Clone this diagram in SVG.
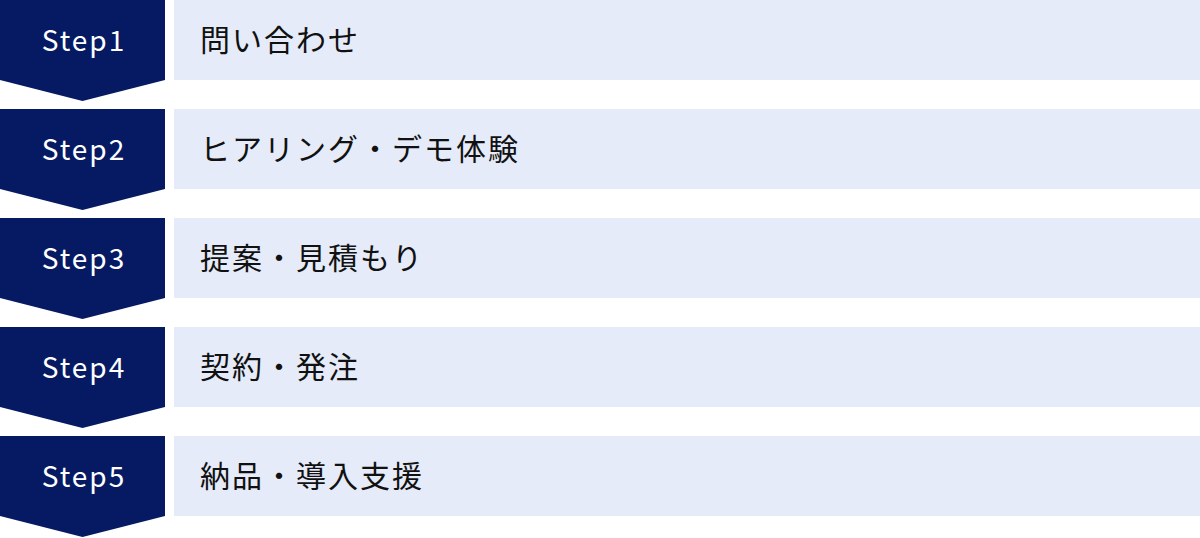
<svg xmlns="http://www.w3.org/2000/svg" width="1200" height="538" viewBox="0 0 1200 538">
<defs>
<style>
.chev{fill:#051A63}
.box{fill:#E5EBF8}
.step{font-family:"Noto Sans CJK JP","Noto Sans",sans-serif;font-size:28px;fill:#FFFFFF;text-anchor:middle;letter-spacing:2px}
.label{font-family:"Noto Sans CJK JP","Noto Sans",sans-serif;font-size:30px;fill:#111111;letter-spacing:2px}
</style>
<polygon id="chevShape" points="0,0 165,0 165,80 82.5,101 0,80"/>
</defs>
<rect width="1200" height="538" fill="#FFFFFF"/>
<g id="connectors"></g>
<g id="step1" transform="translate(0,0)">
<use href="#chevShape" class="chev"/>
<rect class="box" x="174" y="0" width="1026" height="80"/>
<text class="step" x="84" y="51">Step1</text>
<text class="label" x="200" y="51">問い合わせ</text>
</g>
<g id="step2" transform="translate(0,109)">
<use href="#chevShape" class="chev"/>
<rect class="box" x="174" y="0" width="1026" height="80"/>
<text class="step" x="84" y="51">Step2</text>
<text class="label" x="200" y="51">ヒアリング・デモ体験</text>
</g>
<g id="step3" transform="translate(0,218)">
<use href="#chevShape" class="chev"/>
<rect class="box" x="174" y="0" width="1026" height="80"/>
<text class="step" x="84" y="51">Step3</text>
<text class="label" x="200" y="51">提案・見積もり</text>
</g>
<g id="step4" transform="translate(0,327)">
<use href="#chevShape" class="chev"/>
<rect class="box" x="174" y="0" width="1026" height="80"/>
<text class="step" x="84" y="51">Step4</text>
<text class="label" x="200" y="51">契約・発注</text>
</g>
<g id="step5" transform="translate(0,436)">
<use href="#chevShape" class="chev"/>
<rect class="box" x="174" y="0" width="1026" height="80"/>
<text class="step" x="84" y="51">Step5</text>
<text class="label" x="200" y="51">納品・導入支援</text>
</g>
</svg>
